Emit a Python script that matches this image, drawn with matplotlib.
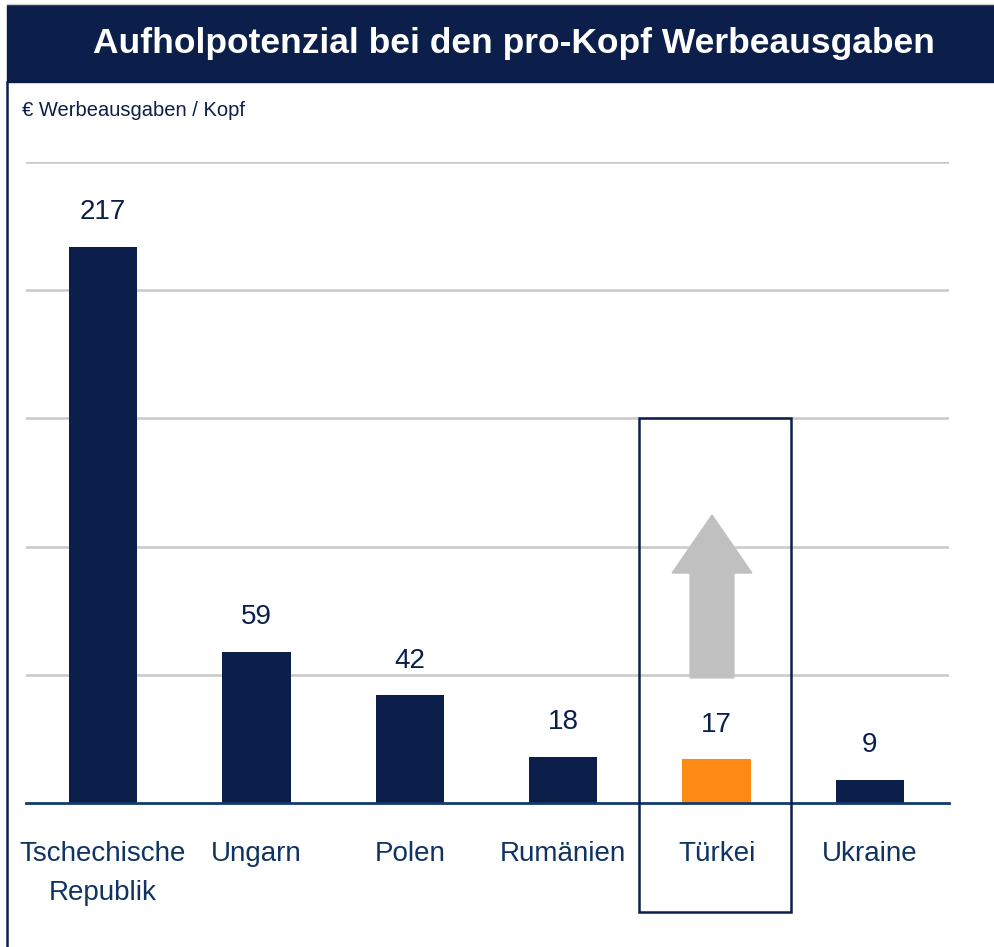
import matplotlib
matplotlib.use("Agg")
import matplotlib.pyplot as plt
from matplotlib.patches import Rectangle, Polygon
from matplotlib.lines import Line2D

# Daten
laender = ["Tschechische\nRepublik", "Ungarn", "Polen", "Rumänien", "Türkei", "Ukraine"]
werte = [217, 59, 42, 18, 17, 9]
hervorgehoben = "Türkei"

titel = "Aufholpotenzial bei den pro-Kopf Werbeausgaben"
einheit = "€ Werbeausgaben / Kopf"

navy = "#0b1f4a"
orange = "#fd8a14"
textblau = "#0f3463"
plt.rcParams["font.family"] = ["Liberation Sans", "DejaVu Sans"]

W, H = 994, 947
fig = plt.figure(figsize=(W / 100, H / 100), dpi=100)
ax = fig.add_axes([26 / W, 1 - 803 / H, (949 - 26) / W, (803 - 162) / H])

x = list(range(len(laender)))
farben = [orange if l == hervorgehoben else navy for l in laender]
ax.bar(x, werte, width=0.445, color=farben, zorder=3)

for xi, v in zip(x, werte):
    ax.annotate(str(v), (xi, v), xytext=(0, 20), textcoords="offset points",
                ha="center", va="baseline", fontsize=20, color=navy)

ax.set_xlim(-0.502, 5.515)
ax.set_ylim(0, 250)
ax.set_yticks([50, 100, 150, 200, 250])
ax.yaxis.grid(True, color="#c8c8c8", linewidth=1.8, zorder=0)
ax.tick_params(axis="y", left=False, labelleft=False)
ax.tick_params(axis="x", bottom=False, pad=24, labelsize=20, labelcolor=textblau)
ax.set_xticks(x)
ax.set_xticklabels(laender, linespacing=1.65)
for s in ["top", "right", "left"]:
    ax.spines[s].set_visible(False)
ax.spines["bottom"].set_color("#123a6b")
ax.spines["bottom"].set_linewidth(2)
ax.spines["bottom"].set_zorder(4)

# Rahmen um die Türkei
idx = laender.index(hervorgehoben)
ax.add_patch(Rectangle((idx - 0.506, -42.5), 0.991, 192.5, fill=False,
                       edgecolor=navy, linewidth=1.8, clip_on=False, zorder=5))

# grauer Pfeil
cx = idx - 0.03
pfeil = [(cx - 0.143, 48.8), (cx + 0.143, 48.8), (cx + 0.143, 89.7), (cx + 0.26, 89.7),
         (cx, 112.3), (cx - 0.26, 89.7), (cx - 0.143, 89.7)]
ax.add_patch(Polygon(pfeil, closed=True, color="#c0c0c0", zorder=4))

# Titelbalken
fig.patches.append(Rectangle((7 / W, 1 - 82 / H), (W - 7) / W, 77 / H,
                             transform=fig.transFigure, color=navy, zorder=0))
fig.lines.append(Line2D([7 / W, 1], [1 - 4 / H, 1 - 4 / H], transform=fig.transFigure,
                        color="#d0d0d0", linewidth=1))
fig.lines.append(Line2D([7 / W, 7 / W], [0, 1 - 82 / H], transform=fig.transFigure,
                        color=navy, linewidth=1.8))
fig.text(514 / W, 1 - 44 / H, titel, ha="center", va="center", fontsize=25.5,
         fontweight="bold", color="white")
fig.text(22 / W, 1 - 116 / H, einheit, ha="left", va="baseline", fontsize=14.5, color=navy)

fig.savefig("out.png", dpi=100)
